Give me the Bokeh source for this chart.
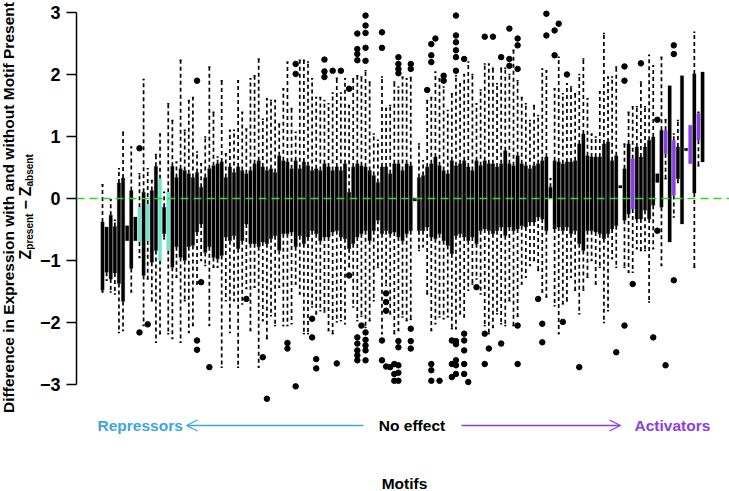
from math import pi
from bokeh.plotting import figure
from bokeh.layouts import row
from bokeh.models import (Range1d, FixedTicker, Span, Arrow, OpenHead, Label,
                          ColumnDataSource, CustomJSTickFormatter)
from bokeh.embed import file_html
from bokeh.resources import INLINE

# ---------------- data ----------------
# per motif: upper quartile, lower quartile, upper whisker, lower whisker
q3 = [-0.38, -0.46, -0.27, -0.45, 0.25, 0.33, -0.44, 0.13, -0.30, -0.14,
      0.10, -0.09, 0.13, 0.52, 0.32, -0.14, 0.10, 0.52, 0.34, 0.48,
      0.45, 0.40, 0.34, 0.42, 0.18, 0.34, 0.48, 0.53, 0.56, 0.59,
      0.34, 0.51, 0.42, 0.51, 0.45, 0.40, 0.45, 0.56, 0.61, 0.51,
      0.45, 0.48, 0.42, 0.69, 0.61, 0.59, 0.48, 0.61, 0.48, 0.59,
      0.53, 0.45, 0.48, 0.45, 0.56, 0.51, 0.45, 0.51, 0.45, 0.56,
      0.10, 0.51, 0.56, 0.53, 0.51, 0.45, 0.37, 0.26, 0.51, 0.51,
      0.40, 0.56, 0.56, 0.45, 0.56, 0.53, 0.01, 0.34, 0.37, 0.51,
      0.56, 0.67, 0.53, 0.45, 0.40, 0.61, 0.53, 0.56, 0.61, 0.51,
      0.45, 0.61, 0.53, 0.61, 0.56, 0.56, 0.51, 0.56, 0.77, 0.56,
      0.53, 0.69, 0.56, 0.53, 0.48, 0.53, 0.56, 0.61, 0.67, 0.18,
      0.61, 0.59, 0.56, 0.59, 0.59, 0.61, 0.88, 1.04, 0.69, 0.67,
      0.67, 0.67, 0.88, 0.91, 0.61, 0.69, 0.21, 0.48, 0.88, 0.64,
      0.83, 0.67, 0.83, 0.94, 0.99, 0.40, 1.10, 1.10, 1.82, 0.94,
      0.83, 1.98, 0.81, 1.18, 2.01, 1.37, 2.04]
q1 = [-1.48, -1.19, -1.30, -1.20, -1.37, -1.66, -0.68, -1.13, -0.68, -0.70,
      -1.24, -0.68, -1.03, -0.84, -1.00, -0.57, -0.84, -1.11, -0.78, -0.95,
      -1.00, -0.78, -0.76, -0.54, -0.41, -0.87, -0.78, -0.95, -0.97, -0.92,
      -0.62, -0.68, -0.60, -0.81, -0.68, -0.41, -0.73, -0.73, -0.78, -0.70,
      -0.73, -0.65, -0.60, -0.84, -0.57, -0.57, -0.54, -0.78, -0.60, -0.73,
      -0.62, -0.52, -0.57, -0.68, -0.62, -0.62, -0.54, -0.52, -0.62, -0.65,
      -0.81, -0.73, -0.62, -0.57, -0.52, -0.68, -0.52, -0.35, -0.57, -0.52,
      -0.57, -0.54, -0.62, -0.68, -0.57, -0.52, -0.04, -0.52, -0.52, -0.46,
      -0.62, -0.65, -0.57, -0.68, -0.76, -0.89, -0.60, -0.57, -0.62, -0.68,
      -0.62, -0.73, -0.52, -0.49, -0.52, -0.57, -0.52, -0.46, -0.60, -0.46,
      -0.52, -0.49, -0.44, -0.46, -0.38, -0.38, -0.30, -0.33, -0.52, 0.00,
      -0.49, -0.46, -0.52, -0.46, -0.57, -0.52, -0.73, -0.84, -0.52, -0.52,
      -0.54, -0.57, -0.65, -0.57, -0.49, -0.44, 0.17, -0.35, -0.25, -0.17,
      -0.33, -0.33, -0.19, -0.33, -0.11, 0.26, -0.14, 0.72, -0.70, 0.05,
      0.32, -0.41, 0.77, 0.56, 0.09, 0.94, 0.59]
whisk_hi = [0.22, -0.46, -0.02, -0.35, 0.48, 1.07, -0.44, 0.83, -0.30, 0.40,
            1.92, 0.48, 0.29, 0.71, 1.04, 0.10, 1.53, 1.26, 0.59, 2.23,
            1.10, 1.58, 1.63, 0.75, 0.56, 0.99, 2.12, 1.39, 0.67, 1.90,
            0.72, 1.10, 1.10, 1.90, 1.39, 1.12, 1.93, 1.98, 2.25, 1.28,
            1.61, 1.58, 1.58, 1.20, 1.77, 2.20, 1.45, 1.07, 2.23, 2.23,
            2.20, 1.93, 1.63, 1.63, 1.58, 1.53, 1.70, 1.94, 1.70, 1.93,
            1.50, 1.93, 1.98, 1.96, 2.06, 1.88, 1.04, 0.94, 1.96, 1.45,
            1.50, 1.88, 1.80, 1.96, 1.93, 1.95, 0.01, 0.88, 0.61, 1.58,
            1.63, 2.04, 1.93, 1.80, 1.42, 1.69, 1.98, 1.85, 2.00, 2.20,
            2.00, 1.53, 1.75, 2.17, 2.17, 2.10, 1.85, 2.10, 2.10, 2.00,
            2.39, 1.90, 1.63, 1.53, 1.26, 1.50, 1.34, 2.09, 2.06, 0.32,
            1.77, 2.28, 1.69, 1.85, 1.80, 1.69, 2.00, 2.25, 1.61, 1.04,
            0.99, 1.72, 2.66, 1.96, 1.96, 2.12, 0.21, 0.88, 1.39, 1.48,
            1.48, 1.88, 1.48, 2.31, 2.14, 0.40, 2.28, 1.27, 1.82, 1.04,
            1.26, 1.98, 0.81, 1.18, 2.68, 1.39, 2.04]
whisk_lo = [-1.51, -1.32, -1.51, -1.54, -2.16, -2.13, -0.68, -1.51, -0.68, -0.95,
            -2.05, -1.30, -1.65, -2.32, -2.18, -0.65, -2.18, -2.26, -1.27, -2.32,
            -1.65, -2.16, -2.05, -1.38, -1.00, -1.08, -2.05, -1.11, -1.11, -2.72,
            -1.65, -2.16, -1.65, -2.72, -1.70, -1.45, -2.13, -1.43, -2.72, -1.97,
            -2.26, -1.89, -2.05, -1.43, -2.05, -2.05, -2.02, -1.38, -1.54, -2.18,
            -2.18, -1.75, -1.86, -1.81, -1.83, -2.13, -2.18, -1.99, -1.97, -2.02,
            -1.10, -1.75, -1.97, -1.90, -2.08, -1.97, -1.65, -1.11, -2.18, -1.40,
            -1.86, -2.18, -2.13, -1.91, -1.97, -1.95, -0.04, -0.84, -0.78, -1.54,
            -2.13, -2.02, -1.91, -1.94, -1.91, -2.10, -2.10, -1.86, -1.91, -1.48,
            -1.38, -1.30, -1.54, -2.05, -2.18, -2.08, -1.86, -2.02, -2.05, -1.65,
            -2.05, -1.90, -1.38, -1.27, -1.08, -1.00, -1.16, -1.51, -1.59, 0.00,
            -1.73, -2.18, -1.70, -1.65, -1.27, -1.48, -1.86, -1.48, -1.27, -1.00,
            -1.38, -1.11, -2.00, -1.81, -0.97, -1.11, 0.17, -1.11, -1.19, -1.19,
            -0.81, -0.84, -0.84, -1.67, -0.81, 0.26, -1.08, 0.32, -0.70, -0.30,
            0.26, -0.41, 0.77, 0.56, -1.11, 0.53, 0.59]

# motif numbers coloured as repressors / activators
repressor_motifs = [10, 12, 15, 17]
activator_motifs = [130, 138, 140, 144, 146]

# outliers: motif number and value
outlier_motif = [10, 10, 12, 24, 24, 24, 25, 27, 36, 40, 41, 46, 46, 48, 48, 48,
                 52, 52, 53, 53, 55, 55, 55, 57, 58, 59, 61, 61,
                 63, 63, 63, 63, 63, 63, 63, 63, 63, 64,
                 65, 65, 65, 65, 65, 65, 65, 65, 65, 65,
                 69, 69, 69, 69, 70, 70, 70, 70, 71, 72, 72, 72,
                 73, 73, 73, 73, 73, 73, 73, 73, 73,
                 76, 76, 76, 76, 76, 80, 81, 81, 81, 81, 81, 81, 82, 83, 84, 84,
                 86, 86, 86, 87, 87, 87, 87, 87, 87, 87, 87, 87, 87, 87,
                 89, 89, 89, 89, 89, 89, 90, 92, 94, 94, 94, 95, 96, 98, 98,
                 100, 100, 100, 102, 102, 102, 102, 102, 107, 108, 108, 109, 109,
                 111, 111, 112, 113, 114, 117, 126, 128, 128, 128, 130, 132, 135,
                 136, 136, 138, 140, 140, 140]
outlier_value = [0.81, -2.16, -2.03, 1.90, -2.29, -2.44, -1.35, -2.72, -1.62, -2.56, -3.23,
                 -2.33, -2.42, 2.17, 2.01, -3.03,
                 -1.94, -2.24, -2.59, -2.74, 2.24, 2.05, 1.96, 2.06, -2.66, 2.06, 1.77, -1.24,
                 2.66, 2.41, 2.33, 2.23, -2.24, -2.34, -2.45, -2.53, -2.61, -2.05,
                 2.95, 2.79, 2.67, 2.43, 2.22, -2.16, -2.28, -2.37, -2.45, -2.61,
                 2.68, 2.43, -2.29, -2.61, -1.53, -1.67, -1.81, -2.71, -2.72, -2.67, -2.83, -2.94,
                 2.28, 2.17, 2.09, 2.02, -2.30, -2.40, -2.69, -2.81, -2.94,
                 2.17, 2.09, -2.10, -2.30, -2.42, 1.75, 2.49, 2.31, 2.20, -2.67, -2.77, -2.94,
                 2.58, -2.94, 1.98, 1.90,
                 -2.29, -2.67, -2.88, 2.95, 2.63, 2.52, 2.39, 2.28, 2.06, -2.30, -2.35, -2.61, -2.69, -2.83,
                 2.25, -2.18, -2.29, -2.45, -2.67, -2.83, -2.96, -1.43, 2.61, -2.18, -2.67, -2.42,
                 2.61, 2.28, -2.34,
                 2.74, 2.25, 2.14, 2.58, 2.47, 2.09, -2.05, -2.67, -1.62, -2.02, -2.32, 2.98, 2.63,
                 2.71, 2.31, 2.82, -1.99, 2.00, -2.72, -2.48, 2.13, 1.90, -2.05, -1.38, 2.18, -2.24,
                 1.27, -0.52, -2.69, 2.47, 2.33, -1.32]

y_ticks = [-3, -2, -1, 0, 1, 2, 3]

# ---------------- styling ----------------
FONT = "Liberation Sans"
BLUE = "#3BA7DE"
PURPLE = "#8A3CE6"
TURQ = "#72E3CF"
GREEN = "#2ED82E"
W, H = 729, 491
LW = 35          # width of the strip holding the y-axis title
BORDER = 41      # axis panel width -> frame starts at x = 76

n = len(q3)
motif = list(range(1, n + 1))
fill = []
for m in motif:
    if m in repressor_motifs:
        fill.append(TURQ)
    elif m in activator_motifs:
        fill.append(PURPLE)
    else:
        fill.append("black")

# main frame spans page x 76..729, box 1 at x 102, 4.11 px per motif;
# value 0 at page y 198, 62 px per unit
PXU = 4.11
PYU = 62.0
Y_ZERO_PAGE = 198.0
FRAME_L = LW + BORDER
X0 = 1 - (102 - FRAME_L) / PXU
X1 = X0 + (W - FRAME_L) / PXU
Y1 = Y_ZERO_PAGE / PYU
Y0 = Y1 - H / PYU


def px_x(page_x):
    return X0 + (page_x - FRAME_L) / PXU


def px_y(page_y):
    return (Y_ZERO_PAGE - page_y) / PYU


# ---------- left strip: the two-line y-axis title ----------
t = figure(width=LW, height=H, output_backend="svg", toolbar_location=None,
           x_range=Range1d(0, LW), y_range=Range1d(H, 0),
           x_axis_location=None, y_axis_location=None,
           min_border_left=0, min_border_right=0, min_border_top=0,
           min_border_bottom=0)
t.outline_line_color = None
t.grid.visible = False
t.add_layout(Label(x=8, y=207,
                   text="Difference in Expression with and without Motif Present",
                   angle=pi / 2, text_color="black", text_font=FONT,
                   text_font_style="bold", text_font_size="15.5px",
                   text_align="center", text_baseline="middle"))
pieces = [("Z", 259, 24.5, "16px"), ("present", 249.2, 28.5, "10px"),
          ("\u2212", 209.1, 24.5, "16px"), ("Z", 195.8, 24.5, "16px"),
          ("absent", 186, 28.5, "10px")]
for txt, py, pxx, fs in pieces:
    t.add_layout(Label(x=pxx, y=py, text=txt, angle=pi / 2,
                       text_color="black", text_font=FONT, text_font_style="bold",
                       text_font_size=fs, text_align="left",
                       text_baseline="middle"))

# ---------- main plot ----------
p = figure(width=W - LW, height=H, output_backend="svg", toolbar_location=None,
           x_range=Range1d(X0, X1), y_range=Range1d(Y0, Y1),
           x_axis_location=None, min_border_left=BORDER, min_border_right=0,
           min_border_top=0, min_border_bottom=0)
p.outline_line_color = None
p.grid.visible = False

ax = p.yaxis[0]
ax.bounds = (-3, 3)
ax.ticker = FixedTicker(ticks=y_ticks)
ax.formatter = CustomJSTickFormatter(
    code="return tick < 0 ? '\u2212' + Math.abs(tick) : String(tick);")
ax.minor_tick_line_color = None
ax.major_tick_in = 0
ax.major_tick_out = 10
ax.major_tick_line_width = 1.5
ax.axis_line_width = 1.5
ax.major_label_text_font = FONT
ax.major_label_text_font_style = "bold"
ax.major_label_text_font_size = "18px"
ax.major_label_text_color = "black"
ax.major_label_standoff = 6

# zero line
p.add_layout(Span(location=0, dimension="width", line_color=GREEN,
                  line_dash="8 5", line_width=1.6))

# whiskers (dashed) and staples
wx, wy0, wy1 = [], [], []
for m, a, b, hi, lo in zip(motif, q3, q1, whisk_hi, whisk_lo):
    if hi > a:
        wx.append(m); wy0.append(a); wy1.append(hi)
    if lo < b:
        wx.append(m); wy0.append(b); wy1.append(lo)
wsrc = ColumnDataSource(dict(x=wx, y0=wy0, y1=wy1,
                             xl=[v - 0.25 for v in wx], xr=[v + 0.25 for v in wx]))
p.segment(x0="x", y0="y0", x1="x", y1="y1", source=wsrc, line_color="black",
          line_width=1.7, line_dash="4 3")
p.segment(x0="xl", y0="y1", x1="xr", y1="y1", source=wsrc, line_color="black",
          line_width=1.5)

# boxes
bsrc = ColumnDataSource(dict(x=motif, top=q3, bottom=q1, fill=fill))
p.vbar(x="x", top="top", bottom="bottom", width=0.8, source=bsrc,
       fill_color="fill", line_color="fill", line_width=0.3)

# outliers
p.scatter(outlier_motif, outlier_value, size=5.5, color="black")

# ---------- annotation row and x title ----------
ann_y = px_y(425)
for txt, xx, col, al in [("Repressors", 97, BLUE, "left"),
                         ("No effect", 411.5, "black", "center"),
                         ("Activators", 634, PURPLE, "left")]:
    p.add_layout(Label(x=px_x(xx), y=ann_y, text=txt, text_color=col,
                       text_font=FONT, text_font_style="bold",
                       text_font_size="15.5px", text_align=al,
                       text_baseline="middle"))
p.add_layout(Arrow(end=OpenHead(size=11, line_color=BLUE, line_width=1.3),
                   x_start=px_x(363), y_start=ann_y, x_end=px_x(186), y_end=ann_y,
                   line_color=BLUE, line_width=1.3))
p.add_layout(Arrow(end=OpenHead(size=11, line_color=PURPLE, line_width=1.3),
                   x_start=px_x(461), y_start=ann_y, x_end=px_x(620), y_end=ann_y,
                   line_color=PURPLE, line_width=1.3))
p.add_layout(Label(x=px_x(404), y=px_y(483), text="Motifs", text_color="black",
                   text_font=FONT, text_font_style="bold", text_font_size="15.5px",
                   text_align="center", text_baseline="middle"))

layout = row(t, p)
open("out.html", "w").write(file_html(layout, INLINE))
